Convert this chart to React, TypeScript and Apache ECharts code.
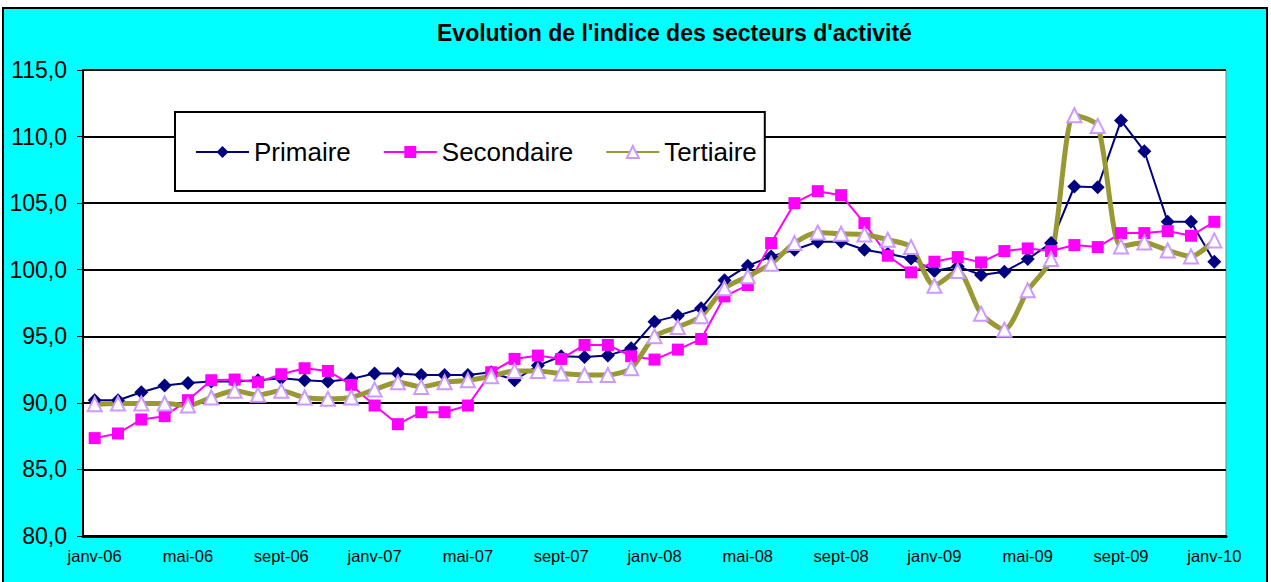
import React, { useEffect, useRef } from "react";
import * as echarts from "echarts";

const MONTHS = ["janv", "févr", "mars", "avr", "mai", "juin", "juil", "août", "sept", "oct", "nov", "déc"];
const YEARS = ["06", "07", "08", "09", "10"];
const categories: string[] = [];
YEARS.forEach((yy, yi) => {
  MONTHS.forEach((m, mi) => {
    if (yi === YEARS.length - 1 && mi > 0) return;
    categories.push(`${m}-${yy}`);
  });
});

const primaire = [
  90.2, 90.2, 90.8, 91.3, 91.5, 91.6, 91.6, 91.7, 91.85, 91.7, 91.6, 91.8,
  92.2, 92.2, 92.1, 92.1, 92.1, 92.3, 91.7, 92.8, 93.5, 93.45, 93.55, 94.1,
  96.1, 96.55, 97.1, 99.2, 100.3, 101.0, 101.5, 102.1, 102.1, 101.5, 101.2, 100.85,
  99.9, 100.25, 99.6, 99.85, 100.8, 102.0, 106.25, 106.2, 111.2, 108.9, 103.6, 103.6,
  100.6,
];
const secondaire = [
  87.35, 87.7, 88.75, 89.0, 90.2, 91.7, 91.75, 91.55, 92.15, 92.6, 92.4, 91.35,
  89.8, 88.4, 89.3, 89.3, 89.8, 92.3, 93.3, 93.55, 93.3, 94.35, 94.35, 93.5,
  93.25, 94.0, 94.8, 98.0, 98.85, 102.0, 105.0, 105.9, 105.6, 103.5, 101.05, 99.8,
  100.6, 100.95, 100.55, 101.4, 101.6, 101.4, 101.85, 101.7, 102.75, 102.75, 102.9, 102.55,
  103.6,
];
const tertiaire = [
  89.9, 89.95, 89.95, 89.95, 89.8, 90.4, 90.9, 90.6, 90.9, 90.4, 90.3, 90.4,
  91.0, 91.55, 91.2, 91.55, 91.7, 92.0, 92.4, 92.4, 92.2, 92.1, 92.1, 92.6,
  95.0, 95.7, 96.5, 98.6, 99.5, 100.45, 102.0, 102.8, 102.7, 102.65, 102.25, 101.7,
  98.8, 99.9, 96.7, 95.5, 98.45, 100.8, 111.6, 110.8, 101.75, 102.05, 101.45, 101.0,
  102.2,
];

const FONT = "'Liberation Sans', Arial, sans-serif";

export default function App() {
  const ref = useRef<HTMLDivElement>(null);
  useEffect(() => {
    if (!ref.current) return;
    const chart = echarts.init(ref.current, undefined, { renderer: "svg" });
    chart.setOption({
      animation: false,
      backgroundColor: "#ffffff",
      textStyle: { fontFamily: FONT },
      graphic: [
        {
          type: "rect",
          z: -10,
          silent: true,
          shape: { x: 3, y: 8, width: 1264, height: 580 },
          style: { fill: "#00FFFF", stroke: "#000000", lineWidth: 2 },
        },
      ],
      title: {
        text: "Evolution de l'indice des secteurs d'activité",
        left: 437,
        top: 21,
        padding: 0,
        textStyle: { fontFamily: FONT, fontSize: 23, fontWeight: "bold", color: "#000" },
      },
      legend: {
        left: 175,
        top: 112,
        orient: "horizontal",
        backgroundColor: "#ffffff",
        borderColor: "#000000",
        borderWidth: 2,
        borderRadius: 0,
        padding: [27, 8, 26, 20],
        itemWidth: 53,
        itemHeight: 15,
        itemGap: 32,
        textStyle: { fontFamily: FONT, fontSize: 26, color: "#000" },
        data: ["Primaire", "Secondaire", "Tertiaire"],
      },
      grid: {
        left: 83,
        right: 45,
        top: 70,
        bottom: 46,
        show: true,
        backgroundColor: "#ffffff",
        borderColor: "#808080",
        borderWidth: 1,
      },
      xAxis: {
        type: "category",
        data: categories,
        boundaryGap: true,
        axisLine: { lineStyle: { color: "#000", width: 3 } },
        axisTick: { interval: 3, length: 6, lineStyle: { color: "#000", width: 1 } },
        axisLabel: { interval: 3, margin: 11, fontSize: 16.5, color: "#000", fontFamily: FONT },
        splitLine: { show: false },
      },
      yAxis: {
        type: "value",
        min: 80,
        max: 115,
        interval: 5,
        axisLine: { show: true, lineStyle: { color: "#000", width: 2 } },
        axisTick: { show: true, length: 6, lineStyle: { color: "#000", width: 1 } },
        axisLabel: {
          margin: 16,
          fontSize: 23,
          color: "#000",
          fontFamily: FONT,
          formatter: (v: number) => v.toFixed(1).replace(".", ","),
        },
        splitLine: { show: true, lineStyle: { color: "#000", width: 2 } },
      },
      series: [
        {
          name: "Primaire",
          type: "line",
          data: primaire,
          symbol: "diamond",
          symbolSize: 14,
          lineStyle: { color: "#000080", width: 2 },
          itemStyle: { color: "#000080" },
        },
        {
          name: "Secondaire",
          type: "line",
          data: secondaire,
          symbol: "rect",
          symbolSize: 12,
          lineStyle: { color: "#FF00FF", width: 2 },
          itemStyle: { color: "#FF00FF" },
        },
        {
          name: "Tertiaire",
          type: "line",
          data: tertiaire,
          smooth: 0.25,
          symbol: "triangle",
          symbolSize: 14,
          lineStyle: { color: "#999933", width: 5 },
          itemStyle: { color: "#ffffff", borderColor: "#CC99FF", borderWidth: 2 },
        },
      ],
    });
    return () => chart.dispose();
  }, []);
  return (
    <div
      ref={ref}
      style={{ position: "fixed", left: 0, top: 0, width: 1271, height: 582 }}
    />
  );
}
